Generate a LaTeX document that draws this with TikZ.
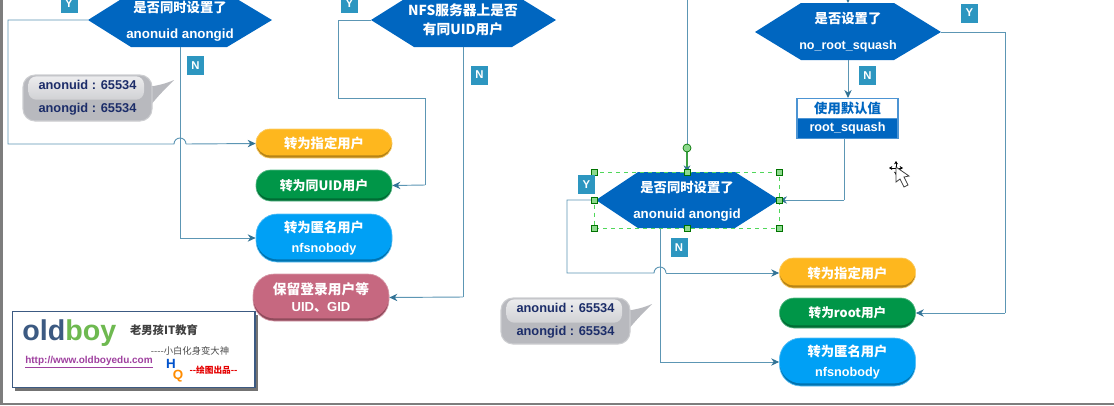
\documentclass[tikz,border=0pt]{standalone}
\usepackage{fontspec}
\setmainfont{Liberation Sans}
\newfontfamily\cjk{Noto Sans CJK SC}
\usepackage{tikz}
\usetikzlibrary{arrows.meta}
\definecolor{hexblue}{RGB}{0,102,192}
\definecolor{linkblue}{RGB}{92,150,180}
\definecolor{tipblue}{RGB}{50,115,150}
\definecolor{flagblue}{RGB}{45,150,192}
\definecolor{pillorange}{RGB}{254,183,30}
\definecolor{pillgreen}{RGB}{0,150,72}
\definecolor{pillsky}{RGB}{0,160,245}
\definecolor{pillrose}{RGB}{198,104,128}
\definecolor{bubblegray}{RGB}{184,185,190}
\definecolor{bubbletext}{RGB}{28,45,105}
\definecolor{selgreen}{RGB}{80,215,90}
\definecolor{framegray}{RGB}{125,125,125}
\definecolor{logoblue}{RGB}{60,90,130}
\definecolor{logogreen}{RGB}{110,185,80}
\tikzset{
  link/.style={draw=linkblue,line width=0.7pt},
  linktip/.style={link,-{Stealth[length=6pt,width=5.5pt,color=tipblue]}},
  hextext/.style={text=white,align=center,inner sep=0pt,font=\fontsize{10}{19.5}\selectfont\bfseries},
  flagbox/.style={fill=flagblue,text=white,inner sep=0pt,minimum width=12.75pt,minimum height=14.25pt,font=\fontsize{8.5}{10}\selectfont\bfseries},
  pill/.style 2 args={fill=#1!72!black,draw=#1!65!white,line width=0.5pt,rounded corners=#2,inner sep=0pt,
    minimum width=102pt,text=white,align=center,
    path picture={\fill[#1,rounded corners=#2] ([yshift=2pt]path picture bounding box.south west) rectangle (path picture bounding box.north east);}},
  bubble/.style={fill=bubblegray,draw=bubblegray!70!white,line width=0.8pt,rounded corners=9pt,inner sep=0pt,
    minimum width=96.75pt,minimum height=34.5pt,text=bubbletext,align=center,
    font=\fontsize{9.6}{17}\selectfont\bfseries,
    path picture={\shade[top color=white!75!bubblegray,bottom color=bubblegray,rounded corners=6pt]
      ([xshift=4pt,yshift=-1pt]path picture bounding box.north west) rectangle ([xshift=-6pt,yshift=16pt]path picture bounding box.south east);}},
  handle/.style={fill=green!35!white!85!black,draw=green!45!black,line width=0.5pt},
  cursortip/.style={line width=0.6pt,{Stealth[length=2.5pt,width=3pt]}-{Stealth[length=2.5pt,width=3pt]}},
}
\begin{document}
\begin{tikzpicture}[x=0.75pt,y=0.75pt,yscale=-1.0,xscale=1.0]
\clip (0,0) rectangle (1114,405);
\fill [white] (0,0) rectangle (1114,405);
\fill [framegray] (0,0) rectangle (2.5,405);
\fill [framegray] (0,403) rectangle (1114,405);
% left hexagons
\fill [hexblue] (88,20) -- (131,-7) -- (227,-7) -- (272,20) -- (227,47) -- (131,47) -- cycle;
\fill [hexblue] (371,20) -- (414,-7) -- (512,-7) -- (556,20) -- (512,47) -- (414,47) -- cycle;
\coordinate (hexaW) at (88,20);
\coordinate (hexaS) at (180,47);
\coordinate (hexbW) at (371,20);
\coordinate (hexbS) at (463,47);
\node [hextext] (hexaText) at (180,21) {{\cjk 是否同时设置了}\\anonuid anongid};
\node [hextext,font=\fontsize{10.3}{14.25}\selectfont\bfseries] (hexbText) at (463,20) {{\cjk NFS服务器上是否}\\{\cjk 有同UID用户}};
% right hexagons
\fill [hexblue] (755,32) -- (801,3) -- (894,3) -- (941,32) -- (894,60) -- (801,60) -- cycle;
\fill [hexblue] (596,200) -- (638,172) -- (735,172) -- (779,200) -- (735,228) -- (638,228) -- cycle;
\coordinate (hexcE) at (941,32);
\coordinate (hexcS) at (848,60);
\coordinate (hexcN) at (848,3);
\coordinate (hexdW) at (596,200);
\coordinate (hexdE) at (779,200);
\coordinate (hexdS) at (660,228);
\coordinate (hexdN) at (687,172);
\node [hextext] (hexcText) at (848,32.5) {{\cjk 是否设置了}\\{\fontsize{9.4}{19.5}\selectfont no\_root\_squash}};
\node [hextext] (hexdText) at (687,201.5) {{\cjk 是否同时设置了}\\anonuid anongid};
% result pills, left
\node [pill={pillorange}{10.5pt},minimum height=21.75pt,font=\cjk\fontsize{10}{11}\selectfont\bfseries] (pillAa) at (324,143.5) {转为指定用户};
\node [pill={pillgreen}{11pt},minimum height=23.25pt,font=\cjk\fontsize{9.7}{11}\selectfont\bfseries] (pillAb) at (324,185.5) {转为同UID用户};
\node [pill={pillsky}{16pt},minimum height=36pt,font=\fontsize{10}{15}\selectfont\bfseries] (pillAc) at (324,238) {{\cjk 转为匿名用户}\\{\fontsize{9.5}{15}\selectfont nfsnobody}};
\node [pill={pillrose}{16pt},minimum height=35.25pt,font=\fontsize{10.3}{12.75}\selectfont\bfseries] (pillAd) at (321,297.5) {{\cjk 保留登录用户等}\\{\fontsize{9.8}{12.75}\selectfont UID{\cjk 、}GID}};
% result pills, right
\node [pill={pillorange}{10.5pt},minimum height=22.5pt,font=\cjk\fontsize{10}{11}\selectfont\bfseries] (pillBa) at (847.5,273) {转为指定用户};
\node [pill={pillgreen}{11pt},minimum height=22.5pt,font=\cjk\fontsize{9.5}{11}\selectfont\bfseries] (pillBb) at (847.5,313) {转为root用户};
\node [pill={pillsky}{16pt},minimum height=36pt,font=\fontsize{10}{15}\selectfont\bfseries] (pillBc) at (847.5,362) {{\cjk 转为匿名用户}\\{\fontsize{9.5}{15}\selectfont nfsnobody}};
% default value box
\node [fill=white,draw=hexblue!70!white,line width=0.8pt,inner sep=0pt,minimum width=75.75pt,minimum height=15pt,text=hexblue,font=\cjk\fontsize{10}{11}\selectfont\bfseries] (defTop) at (847.5,108.5) {使用默认值};
\node [fill=hexblue,draw=hexblue!70!white,line width=0.8pt,inner sep=0pt,minimum width=75.75pt,minimum height=15pt,text=white,font=\fontsize{9.5}{11}\selectfont\bfseries] (defBottom) at (847.5,128.5) {root\_squash};
\coordinate (defOut) at (844,139);
% connectors, left
\coordinate (turnAa) at (8,20);
\coordinate (turnAb) at (8,144);
\coordinate (turnAc) at (180,238);
\coordinate (turnBa) at (338,20);
\coordinate (turnBb) at (338,98);
\coordinate (turnBc) at (425,98);
\coordinate (turnBd) at (425,185);
\coordinate (turnBe) at (463,297);
\draw [link] (hexaS) -- (turnAc);
\draw [linktip] (turnAc) -- (pillAc.west);
\draw [link] (hexaW) -- (turnAa) -- (turnAb) -- (174,144) arc [start angle=180,end angle=360,radius=6];
\draw [linktip] (186,144) -- (pillAa.west);
\draw [link] (hexbW) -- (turnBa) -- (turnBb) -- (turnBc) -- (turnBd);
\draw [linktip] (turnBd) -- (pillAb.east);
\draw [link] (hexbS) -- (turnBe);
\draw [linktip] (turnBe) -- (pillAd.east);
% connectors, right
\coordinate (topIn) at (848,-4);
\coordinate (topLine) at (687,-4);
\coordinate (rotHandle) at (687,148);
\coordinate (turnCa) at (1005,32);
\coordinate (turnCb) at (1005,313);
\coordinate (turnCc) at (844,200);
\coordinate (turnDa) at (567,200);
\coordinate (turnDb) at (567,273);
\coordinate (turnDc) at (660,362);
\draw [linktip] (topIn) -- (hexcN);
\draw [linktip] (hexcS) -- (defTop.north -| hexcS);
\draw [link] (hexcE) -- (turnCa) -- (turnCb);
\draw [linktip] (turnCb) -- (pillBb.east);
\draw [link] (defOut) -- (turnCc);
\draw [linktip] (turnCc) -- (hexdE);
\draw [link] (topLine) -- (rotHandle);
\draw [link] (hexdS) -- (turnDc);
\draw [linktip] (turnDc) -- (pillBc.west);
\draw [link] (hexdW) -- (turnDa) -- (turnDb) -- (654,273) arc [start angle=180,end angle=360,radius=6];
\draw [linktip] (666,273) -- (pillBa.west);
% selection marks
\draw [selgreen,line width=0.7pt,dashed] (594.5,172.5) rectangle (779.5,228);
\draw [selgreen!75!black,line width=0.8pt,-{Stealth[length=5pt,width=5pt,color=tipblue]}] (rotHandle) -- (hexdN);
\foreach \hx/\hy in {594.5/172.5,687/172.5,779.5/172.5,594.5/200,779.5/200,594.5/228,687/228,779.5/228}
  \draw [handle] (\hx-3,\hy-3) rectangle (\hx+3,\hy+3);
\draw [handle] (687,148) circle (3pt);
% Y and N flags
\node [flagbox] (flagYa) at (69,3.5) {Y};
\node [flagbox] (flagNa) at (195.5,65.5) {N};
\node [flagbox] (flagYb) at (349.5,3.5) {Y};
\node [flagbox] (flagNb) at (479.5,75) {N};
\node [flagbox] (flagYc) at (969.5,13) {Y};
\node [flagbox] (flagNc) at (867.5,75.5) {N};
\node [flagbox] (flagYd) at (586.5,184.5) {Y};
\node [flagbox] (flagNd) at (679,247.5) {N};
% speech bubbles
\fill [bubblegray] (146,87) .. controls (156,86) and (165,84) .. (174,80) .. controls (165,89) and (158,96) .. (150,106) -- cycle;
\fill [bubblegray] (624,311) .. controls (634,310) and (643,308) .. (652,304) .. controls (643,313) and (636,320) .. (628,330) -- cycle;
\node [bubble] (bubbleA) at (87.5,98) {anonuid : 65534\\anongid : 65534};
\node [bubble] (bubbleB) at (565.5,321) {anonuid : 65534\\anongid : 65534};
% logo
\fill [black!55] (15,315) rectangle (258,391);
\node [fill=white,draw=logoblue,line width=1pt,inner sep=0pt,minimum width=182pt,minimum height=57pt] (logoBox) at (133.5,349.5) {};
\node [inner sep=0pt,anchor=base west,font=\fontsize{21.5}{25}\selectfont\bfseries] (logoName) at (22,340) {\textcolor{logoblue}{old}\textcolor{logogreen}{boy}};
\node [inner sep=0pt,text=black!75,font=\cjk\fontsize{8.5}{10}\selectfont\bfseries] (logoSchool) at (164,330) {老男孩IT教育};
\node [inner sep=0pt,text=black!70,font=\cjk\fontsize{7}{8}\selectfont] (logoMotto) at (190,351) {----小白化身变大神};
\node [inner sep=0pt,text=violet!75!white,font=\fontsize{7.5}{8}\selectfont\bfseries] (logoUrl) at (89,362) {\underline{http://www.oldboyedu.com}};
\node [inner sep=0pt,text=blue!60!cyan!80!black,font=\fontsize{10}{10}\selectfont\bfseries] (logoH) at (171,363.5) {H};
\node [inner sep=0pt,text=orange!90!yellow,font=\fontsize{10}{10}\selectfont\bfseries] (logoQ) at (178,376) {Q};
\node [inner sep=0pt,text=red!90!black,font=\cjk\fontsize{6.5}{8}\selectfont\bfseries] (logoMade) at (213.5,370) {--绘图出品--};
% cursor
\draw [cursortip] (889,168) -- (903,168);
\draw [cursortip] (896,161) -- (896,175);
\draw [fill=white,draw=black!75,line width=0.6pt] (896,167) -- (896,182) -- (900,179) -- (904,187) -- (908,185) -- (904,177) -- (909,176) -- cycle;
\end{tikzpicture}
\end{document}
